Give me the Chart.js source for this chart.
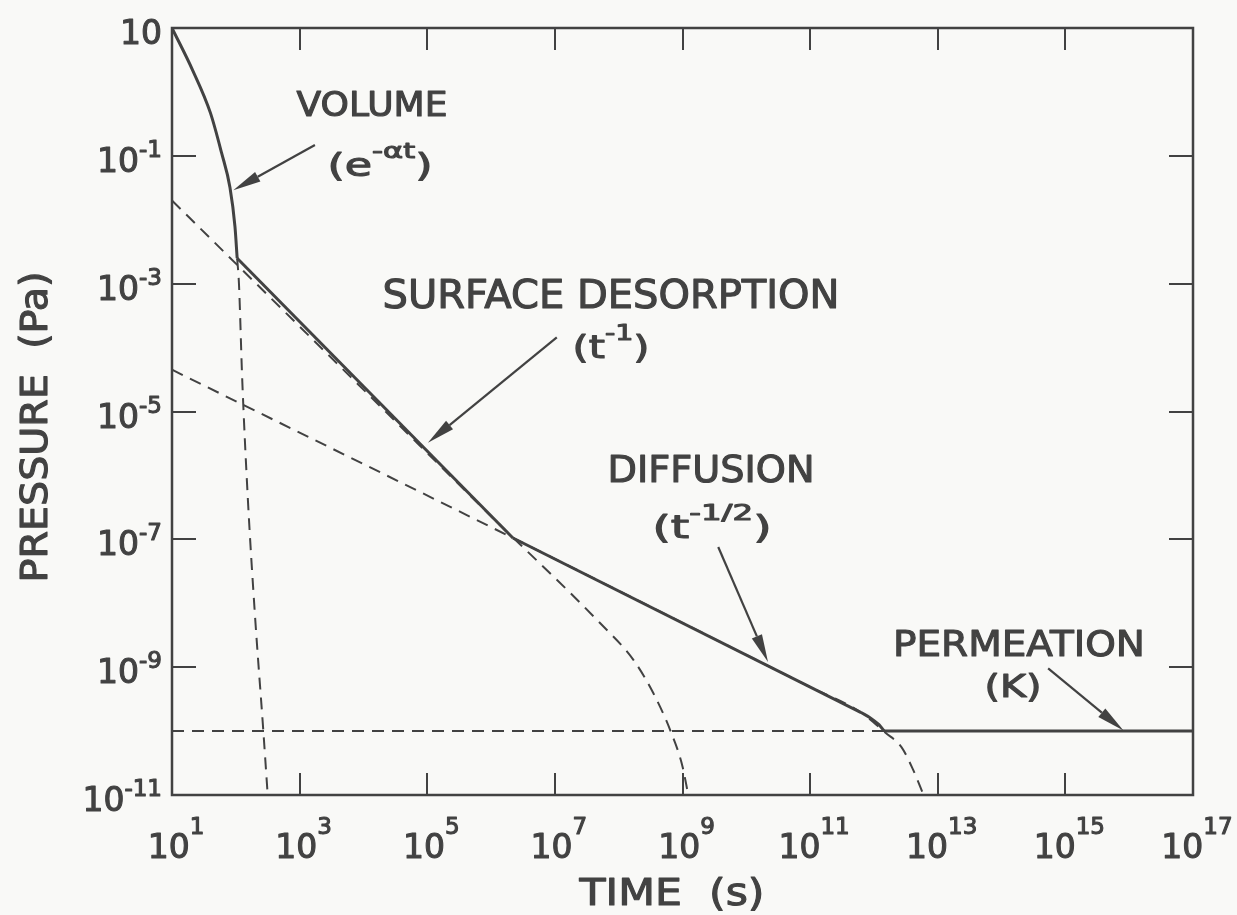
<!DOCTYPE html>
<html>
<head>
<meta charset="utf-8">
<script src="https://cdn.jsdelivr.net/npm/chart.js@4.4.1/dist/chart.umd.min.js"></script>
<style>
html, body { margin: 0; padding: 0; background: #f9f9f7; }
canvas { display: block; }
</style>
</head>
<body>
<canvas id="myChart" width="1237" height="915"></canvas>
<script>
// axis ticks (every second decade) and the exponents printed on them
var timeTicks = [1e1, 1e3, 1e5, 1e7, 1e9, 1e11, 1e13, 1e15, 1e17];
var timeTickSup = ['1', '3', '5', '7', '9', '11', '13', '15', '17'];
var pressureTicks = [1e1, 1e-1, 1e-3, 1e-5, 1e-7, 1e-9, 1e-11];
var pressureTickSup = ['', '-1', '-3', '-5', '-7', '-9', '-11'];

// total pressure (solid line)
var volumeT = [10, 21, 40, 60, 81, 97, 105];
var volumeP = [10, 2.2, 0.47, 0.11, 0.032, 7.8e-3, 2.5e-3];
var desorbT = [105, 2.2e6];
var desorbP = [2.5e-3, 1.05e-7];
var diffusT = [2.2e6, 6.3e11];
var diffusP = [1.05e-7, 1.95e-10];
var bendT = [6.3e11, 9e11, 1.2e12, 1.5e12, 1e17];
var bendP = [1.95e-10, 1.58e-10, 1.26e-10, 1e-10, 1e-10];

// single contributions (dashed lines)
var volTailT = [105, 112, 126, 155, 200, 270, 316];
var volTailP = [2.5e-3, 1e-3, 3.2e-5, 4e-7, 6.3e-9, 1e-10, 1e-11];
var surfT = [10, 1e4, 1e6, 5.1e7, 1.7e8, 3.5e8, 6.5e8, 1.0e9, 1.23e9];
var surfP = [2.0e-2, 2.2e-5, 2.3e-7, 4.9e-9, 1.3e-9, 3.9e-10, 1.0e-10, 2.8e-11, 1e-11];
var diffT = [10, 2.2e6, 1e11, 6.3e11, 1.5e12, 2.7e12, 4.1e12, 6e12];
var diffP = [4.5e-5, 1.05e-7, 4.9e-10, 1.95e-10, 9.5e-11, 5.6e-11, 2.5e-11, 1e-11];
var permT = [10, 1.5e12];
var permP = [1e-10, 1e-10];

var ink = '#424242';
var face = '"DejaVu Sans", sans-serif';

function pts(t, p) {
  return t.map(function (v, i) { return { x: v, y: p[i] }; });
}

function line(t, p, dashed, smooth) {
  return {
    data: pts(t, p),
    showLine: true,
    borderColor: ink,
    borderWidth: dashed ? 2 : 3,
    borderDash: dashed ? [12, 8] : [],
    cubicInterpolationMode: smooth ? 'monotone' : 'default',
    tension: 0,
    pointRadius: 0,
    fill: false
  };
}

// text with superscript parts, optionally squeezed to a given width
function rich(ctx, parts, x, base, size, width, align, raise) {
  var ws = [], w = 0;
  var fnt = function (p) { return (p[1] ? Math.round(size * 0.7) : size) + 'px ' + face; };
  parts.forEach(function (p) {
    ctx.font = fnt(p);
    var m = ctx.measureText(p[0]).width;
    ws.push(m); w += m;
  });
  var k = width ? width / w : 1;
  var total = w * k;
  var x0 = align === 'right' ? x - total : (align === 'left' ? x : x - total / 2);
  ctx.save();
  ctx.translate(x0, base);
  ctx.scale(k, 1);
  ctx.textAlign = 'left';
  ctx.textBaseline = 'alphabetic';
  ctx.lineWidth = 1.1;
  ctx.lineJoin = 'round';
  var cx = 0;
  parts.forEach(function (p, i) {
    ctx.font = fnt(p);
    var y = p[1] ? -size * (raise || 0.6) : 0;
    ctx.fillText(p[0], cx, y);
    ctx.strokeText(p[0], cx, y);
    cx += ws[i];
  });
  ctx.restore();
}

var notes = [
  { parts: [['VOLUME', 0]], x: 372, base: 116, size: 34, w: 151 },
  { parts: [['(e', 0], ['-\u03b1t', 1], [')', 0]], x: 380, base: 176, size: 32, w: 105 },
  { parts: [['SURFACE DESORPTION', 0]], x: 611, base: 308, size: 39, w: 457 },
  { parts: [['(t', 0], ['-1', 1], [')', 0]], x: 611, base: 358, size: 32, w: 77 },
  { parts: [['DIFFUSION', 0]], x: 711, base: 482, size: 37, w: 207 },
  { parts: [['(t', 0], ['-1/2', 1], [')', 0]], x: 712, base: 538, size: 32, w: 119 },
  { parts: [['PERMEATION', 0]], x: 1019, base: 656, size: 36, w: 252 },
  { parts: [['(K)', 0]], x: 1013, base: 697, size: 32, w: 57 }
];

// arrows: [tail t, tail p, tip t, tip p]
var arrows = [
  [Math.pow(10, 3.24), Math.pow(10, -0.83), Math.pow(10, 1.96), Math.pow(10, -1.54)],
  [Math.pow(10, 7.03), Math.pow(10, -3.84), Math.pow(10, 5.01), Math.pow(10, -5.49)],
  [Math.pow(10, 9.56), Math.pow(10, -7.12), Math.pow(10, 10.34), Math.pow(10, -8.92)],
  [Math.pow(10, 14.73), Math.pow(10, -9.02), Math.pow(10, 15.91), Math.pow(10, -9.99)]
];

var paper = {
  id: 'paper',
  beforeDraw: function (chart) {
    var ctx = chart.ctx;
    ctx.save();
    ctx.fillStyle = '#f9f9f7';
    ctx.fillRect(0, 0, chart.width, chart.height);
    ctx.restore();
  },
  afterDraw: function (chart) {
    var ctx = chart.ctx, a = chart.chartArea;
    var xs = chart.scales.x, ys = chart.scales.y;
    ctx.save();
    ctx.strokeStyle = ink;
    ctx.fillStyle = ink;

    // frame
    ctx.lineWidth = 2.5;
    ctx.strokeRect(a.left, a.top, a.right - a.left, a.bottom - a.top);

    // inward ticks on all four sides
    ctx.lineWidth = 2;
    ctx.beginPath();
    timeTicks.forEach(function (v) {
      var x = Math.round(xs.getPixelForValue(v));
      if (x <= a.left + 2 || x >= a.right - 2) return;
      ctx.moveTo(x, a.bottom); ctx.lineTo(x, a.bottom - 22);
      ctx.moveTo(x, a.top); ctx.lineTo(x, a.top + 22);
    });
    pressureTicks.forEach(function (v) {
      var y = Math.round(ys.getPixelForValue(v));
      if (y <= a.top + 2 || y >= a.bottom - 2) return;
      ctx.moveTo(a.left, y); ctx.lineTo(a.left + 24, y);
      ctx.moveTo(a.right, y); ctx.lineTo(a.right - 24, y);
    });
    ctx.stroke();

    // tick labels
    timeTicks.forEach(function (v, i) {
      var x = xs.getPixelForValue(v);
      rich(ctx, [['10', 0], [timeTickSup[i], 1]], x + 4, a.bottom + 63, 33, null, 'center', 0.72);
    });
    pressureTicks.forEach(function (v, i) {
      var y = ys.getPixelForValue(v);
      var parts = [['10', 0]];
      if (pressureTickSup[i]) parts.push([pressureTickSup[i], 1]);
      rich(ctx, parts, a.left - 10, y + 16, 33, null, 'right', 0.45);
    });

    // axis titles
    rich(ctx, [['TIME  (s)', 0]], 672, 905, 38, 185, 'center');
    ctx.save();
    ctx.translate(47, 427);
    ctx.rotate(-Math.PI / 2);
    rich(ctx, [['PRESSURE  (Pa)', 0]], 0, 0, 37, 311, 'center');
    ctx.restore();

    // annotations
    notes.forEach(function (n) {
      rich(ctx, n.parts, n.x, n.base, n.size, n.w, 'center', 0.55);
    });

    // arrows
    ctx.lineWidth = 2.2;
    arrows.forEach(function (r) {
      var x1 = xs.getPixelForValue(r[0]), y1 = ys.getPixelForValue(r[1]);
      var x2 = xs.getPixelForValue(r[2]), y2 = ys.getPixelForValue(r[3]);
      var ang = Math.atan2(y2 - y1, x2 - x1);
      var len = 28, half = 5.5;
      var bx = x2 - len * Math.cos(ang), by = y2 - len * Math.sin(ang);
      ctx.beginPath();
      ctx.moveTo(x1, y1); ctx.lineTo(bx, by);
      ctx.stroke();
      ctx.beginPath();
      ctx.moveTo(x2, y2);
      ctx.lineTo(bx + half * Math.sin(ang), by - half * Math.cos(ang));
      ctx.lineTo(bx - half * Math.sin(ang), by + half * Math.cos(ang));
      ctx.closePath();
      ctx.fill();
    });
    ctx.restore();
  }
};

var config = {
  type: 'scatter',
  data: {
    datasets: [
      line(permT, permP, true, false),
      line(volTailT, volTailP, true, true),
      line(surfT, surfP, true, true),
      line(diffT, diffP, true, true),
      line(volumeT, volumeP, false, true),
      line(desorbT, desorbP, false, false),
      line(diffusT, diffusP, false, false),
      line(bendT, bendP, false, true)
    ]
  },
  options: {
    responsive: false,
    animation: false,
    events: [],
    layout: { padding: { left: 172, top: 28, right: 44, bottom: 120 } },
    plugins: { legend: { display: false }, tooltip: { enabled: false } },
    scales: {
      x: { type: 'logarithmic', min: 1e1, max: 1e17, display: false },
      y: { type: 'logarithmic', min: 1e-11, max: 1e1, display: false }
    }
  },
  plugins: [paper]
};

var ctx = document.getElementById('myChart').getContext('2d');
var myChart = new Chart(ctx, config);
</script>
</body>
</html>
